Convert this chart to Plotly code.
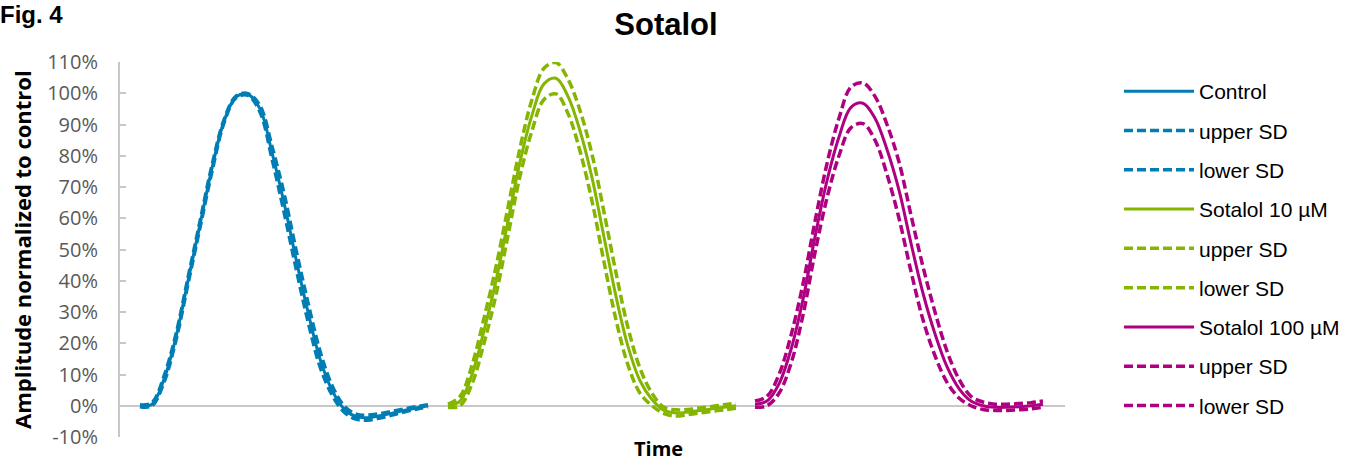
import plotly.graph_objects as go

# ---- data (time in arbitrary units, amplitude in % of control) ----
time_control = [20, 32, 44, 56, 68, 80, 92, 104, 116, 128, 140, 152, 164, 176, 188, 200, 212, 224, 236, 248, 260, 272, 284, 296, 308]
time_sot10 = [328, 340, 352, 364, 376, 388, 400, 412, 424, 436, 448, 460, 472, 484, 496, 508, 520, 532, 544, 556, 568, 580, 592, 604, 616]
time_sot100 = [635, 647, 659, 671, 683, 695, 707, 719, 731, 743, 755, 767, 779, 791, 803, 815, 827, 839, 851, 863, 875, 887, 899, 911, 923]

control_mean = [0, 0.5, 8.5, 22, 40, 58, 76, 91, 98.8, 99.6, 95, 81, 65, 47, 30, 15, 5, -1, -3.5, -3.8, -3.2, -2.4, -1.5, -0.7, 0]
control_upper = [0.3, 1.0, 9.5, 23, 41, 59, 77, 91.5, 99.1, 99.9, 96, 83, 68, 50, 33, 17.5, 6.5, 0, -2.7, -3.0, -2.5, -1.8, -1.0, -0.3, 0.3]
control_lower = [-0.3, 0, 7.5, 21, 39, 57, 75, 90.5, 98.5, 99.3, 94, 79, 62, 44, 27, 12.5, 3.5, -2, -4.3, -4.6, -3.9, -3.0, -2.0, -1.1, -0.3]

sot10_mean = [0, 1.5, 10, 24, 40, 59, 78, 93, 103, 104.8, 99, 88, 73, 54, 35, 19, 8, 2, -1.5, -2.3, -2, -1.5, -1, -0.5, 0]
sot10_upper = [0.5, 3, 13, 28, 44.5, 63.5, 82.5, 98, 108, 109.8, 104.5, 94.5, 80.5, 62, 42.5, 25, 12, 4, -0.5, -1.3, -1.2, -0.7, -0.2, 0.3, 0.8]
sot10_lower = [-0.5, 0, 7, 20, 35.5, 54.5, 73.5, 88, 98, 99.8, 93.5, 81.5, 65.5, 46, 27.5, 13, 4, 0, -2.5, -3.3, -2.8, -2.3, -1.8, -1.3, -0.8]

sot100_mean = [0.5, 1.5, 7, 18, 34, 54, 72, 86, 95.5, 96.8, 92, 82, 69, 52, 36, 23, 12.5, 5.5, 1.5, 0, -0.5, -0.5, -0.3, 0, 0.5]
sot100_upper = [1.5, 3, 10, 22.5, 39, 59, 77.5, 92, 102, 103.3, 99, 90, 78, 61, 44.5, 30, 17.5, 8.5, 3, 1.2, 0.5, 0.5, 0.7, 1, 1.5]
sot100_lower = [-0.5, 0, 4, 13.5, 29, 49, 66.5, 80, 89, 90.3, 85, 74, 60, 43, 27.5, 16, 7.5, 2.5, 0, -1.2, -1.5, -1.5, -1.3, -1, -0.5]

y_tick_values = [-10, 0, 10, 20, 30, 40, 50, 60, 70, 80, 90, 100, 110]
y_tick_labels = ["-10%", "0%", "10%", "20%", "30%", "40%", "50%", "60%", "70%", "80%", "90%", "100%", "110%"]

BLUE = "#007DB4"
GREEN = "#84B500"
MAGENTA = "#AE0080"

series = [
    ("Control", time_control, control_mean, BLUE, "solid"),
    ("upper SD", time_control, control_upper, BLUE, "dash"),
    ("lower SD", time_control, control_lower, BLUE, "dash"),
    ("Sotalol 10 µM", time_sot10, sot10_mean, GREEN, "solid"),
    ("upper SD", time_sot10, sot10_upper, GREEN, "dash"),
    ("lower SD", time_sot10, sot10_lower, GREEN, "dash"),
    ("Sotalol 100 µM", time_sot100, sot100_mean, MAGENTA, "solid"),
    ("upper SD", time_sot100, sot100_upper, MAGENTA, "dash"),
    ("lower SD", time_sot100, sot100_lower, MAGENTA, "dash"),
]

fig = go.Figure()
for i, (name, t, v, col, style) in enumerate(series):
    fig.add_trace(go.Scatter(
        x=t, y=v, name=name, mode="lines", legendgroup=f"g{i}",
        line=dict(color=col, width=3 if style == "solid" else 3.5,
                  dash="solid" if style == "solid" else "9px,4px",
                  shape="spline", smoothing=1.0),
    ))

W, H = 1356, 461
L, R, T, B = 120, 291, 62, 24
PW, PH = W - L - R, H - T - B

def px(xp):
    return (xp - L) / PW

def py(yp):
    return (H - B - yp) / PH

fig.update_layout(
    width=W, height=H,
    margin=dict(l=L, r=R, t=T, b=B, autoexpand=False),
    paper_bgcolor="white", plot_bgcolor="white",
    title=dict(text="<b>Sotalol</b>", x=px(666), xref="paper", xanchor="center",
               y=1 - 24 / H, yref="container", yanchor="middle",
               font=dict(family="Liberation Sans, Arial", size=31, color="black")),
    xaxis=dict(range=[0, 945], showgrid=False, zeroline=False, showline=False,
               showticklabels=False, ticks=""),
    yaxis=dict(range=[-10, 110], tickmode="array", tickvals=y_tick_values, ticktext=y_tick_labels,
               showgrid=False, zeroline=True, zerolinecolor="#C8C8C8", zerolinewidth=2,
               showline=True, linecolor="#C8C8C8", linewidth=2,
               ticks="inside", ticklen=6, tickwidth=2, tickcolor="#C8C8C8",
               ticklabelstandoff=16,
               tickfont=dict(family="Open Sans", size=20, color="#595959")),
    legend=dict(x=px(1119), xanchor="left", y=py(71), yanchor="top",
                font=dict(family="Liberation Sans, Arial", size=21, color="black"),
                itemwidth=70, tracegroupgap=9, bgcolor="rgba(0,0,0,0)"),
    showlegend=True,
    annotations=[
        dict(text="<b>Fig. 4</b>", xref="paper", yref="paper", x=px(-2), y=py(14),
             xanchor="left", yanchor="middle", showarrow=False,
             font=dict(family="Liberation Sans, Arial", size=24, color="black")),
        dict(text="<b>Time</b>", xref="paper", yref="paper", x=px(658), y=py(448),
             xanchor="center", yanchor="middle", showarrow=False,
             font=dict(family="Open Sans", size=20, color="black")),
        dict(text="<b>Amplitude normalized to control</b>", xref="paper", yref="paper",
             x=px(22), y=py(250), textangle=-90, xanchor="center", yanchor="middle",
             showarrow=False,
             font=dict(family="Open Sans", size=22, color="black")),
    ],
)

fig.write_html("out.html", config={"displayModeBar": False},
               post_script="document.body.style.margin='0';document.body.style.overflow='hidden';")
